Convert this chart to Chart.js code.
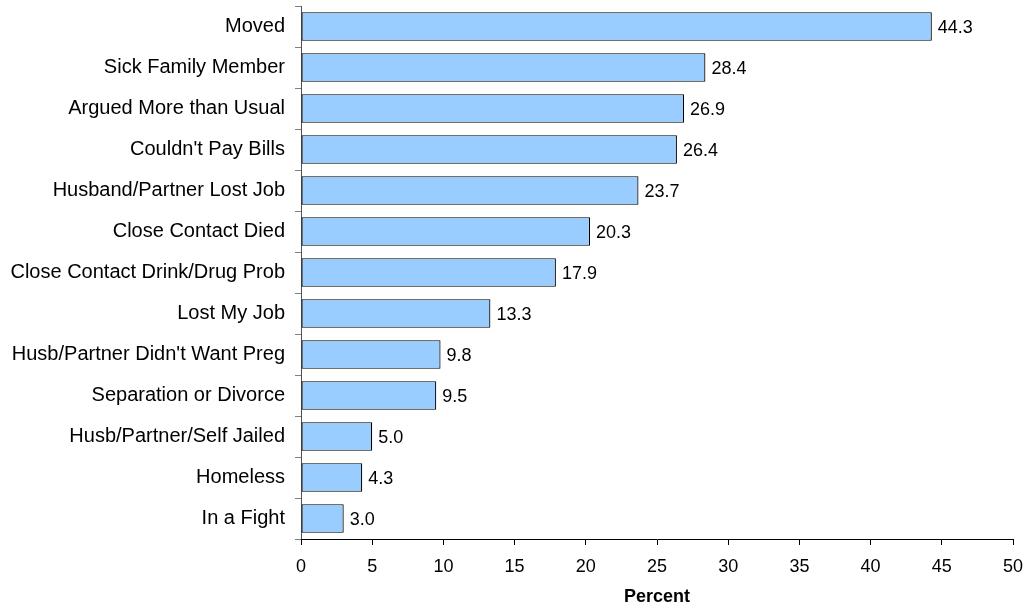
<!DOCTYPE html>
<html>
<head>
<meta charset="utf-8">
<script src="https://cdn.jsdelivr.net/npm/chart.js@4"></script>
<style>
  html, body { margin: 0; padding: 0; background: #fff; }
  #wrap { position: relative; width: 1028px; height: 609px; }
</style>
</head>
<body>
<div id="wrap"><canvas id="bar-chart" width="1028" height="609"></canvas></div>
<script>
const categories = [
  'Moved',
  'Sick Family Member',
  'Argued More than Usual',
  "Couldn't Pay Bills",
  'Husband/Partner Lost Job',
  'Close Contact Died',
  'Close Contact Drink/Drug Prob',
  'Lost My Job',
  "Husb/Partner Didn't Want Preg",
  'Separation or Divorce',
  'Husb/Partner/Self Jailed',
  'Homeless',
  'In a Fight',
];
const percents = [44.3, 28.4, 26.9, 26.4, 23.7, 20.3, 17.9, 13.3, 9.8, 9.5, 5.0, 4.3, 3.0];
const xTicks = [0, 5, 10, 15, 20, 25, 30, 35, 40, 45, 50];

const FONT = '"Liberation Sans", Arial, sans-serif';
Chart.defaults.font.family = FONT;
Chart.defaults.font.size = 18;
Chart.defaults.color = '#000';

// value labels next to each bar end
const valueLabels = {
  id: 'valueLabels',
  afterDatasetsDraw(chart) {
    const ctx = chart.ctx;
    const meta = chart.getDatasetMeta(0);
    ctx.save();
    ctx.font = '18px ' + FONT;
    ctx.fillStyle = '#000';
    ctx.textAlign = 'left';
    ctx.textBaseline = 'middle';
    meta.data.forEach((bar, i) => {
      ctx.fillText(percents[i].toFixed(1), bar.x + 6, bar.y + 1.5);
    });
    ctx.restore();
  }
};

let ctx = document.getElementById('bar-chart').getContext('2d');
window.myBar = new Chart(ctx, {
  type: 'bar',
  data: {
    labels: categories,
    datasets: [{
      data: percents,
      backgroundColor: '#99ccff',
      borderColor: '#000',
      borderWidth: 1.2,
      borderSkipped: false,
      categoryPercentage: 1.0,
      barPercentage: 0.7,
    }],
  },
  options: {
    indexAxis: 'y',
    responsive: false,
    animation: false,
    layout: { padding: { top: 6, right: 15, bottom: 0, left: 0 } },
    plugins: {
      legend: { display: false },
      tooltip: { enabled: false },
    },
    scales: {
      y: {
        grid: {
          drawOnChartArea: false,
          offset: true,
          tickLength: 6,
          color: '#808080',
        },
        border: { color: '#505050' },
        ticks: { padding: 10, color: '#000', font: { size: 20 } },
        afterFit(scale) {
          scale.width = 301;
          scale.paddingTop = 0;
          scale.paddingBottom = 0;
        },
      },
      x: {
        min: 0,
        max: 50,
        afterBuildTicks(scale) { scale.ticks = xTicks.map(v => ({ value: v })); },
        grid: {
          drawOnChartArea: false,
          tickLength: 6,
          color: '#000',
        },
        border: { color: '#000' },
        ticks: { padding: 11, color: '#000', font: { size: 18 } },
        title: {
          display: true,
          text: 'Percent',
          font: { size: 18, weight: 'bold' },
          padding: { top: 0, bottom: 1 },
        },
        afterFit(scale) {
          scale.height = 70;
          scale.paddingLeft = 0;
          scale.paddingRight = 0;
        },
      },
    },
  },
  plugins: [valueLabels],
});
</script>
</body>
</html>
